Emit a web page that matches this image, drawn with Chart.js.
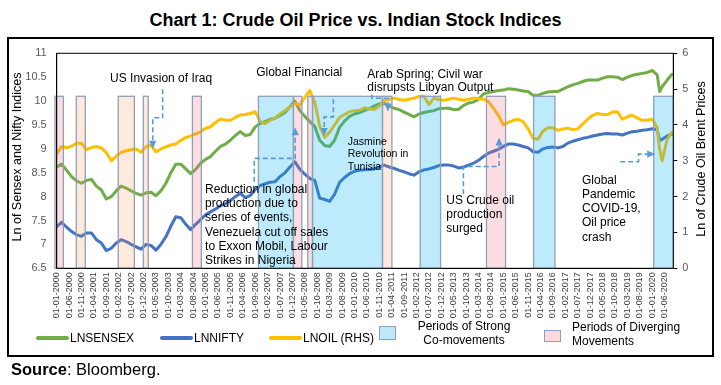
<!DOCTYPE html>
<html><head><meta charset="utf-8">
<script src="https://cdn.jsdelivr.net/npm/chart.js@4/dist/chart.umd.min.js"></script>
<style>
body{margin:0;background:#fff;}
#wrap{position:relative;width:721px;height:385px;font-family:"Liberation Sans",Arial,sans-serif;color:#000;overflow:hidden;}
#c{position:absolute;left:0;top:0;}
#frame{position:absolute;left:7px;top:37px;width:707px;height:320px;border:2px solid #000;box-sizing:border-box;}
#title{position:absolute;left:0;width:711px;top:9px;text-align:center;font-weight:bold;font-size:18px;line-height:22px;white-space:nowrap;}
#source{position:absolute;left:11px;top:359px;font-size:16.5px;line-height:20px;white-space:nowrap;}
.lg{position:absolute;font-size:12px;line-height:14px;white-space:nowrap;}
.ln{position:absolute;height:4px;border-radius:2px;}
.sw{position:absolute;box-sizing:border-box;border:1.3px solid #8EA0BA;}
</style></head><body>
<div id="wrap">
<div id="title">Chart 1: Crude Oil Price vs. Indian Stock Indices</div>
<div id="frame"></div>
<canvas id="c" width="721" height="385"></canvas>
<div class="ln" style="left:36px;top:336px;width:33px;background:#70AD47"></div>
<div class="lg" style="left:70px;top:331px">LNSENSEX</div>
<div class="ln" style="left:160px;top:336px;width:33px;background:#4472C4"></div>
<div class="lg" style="left:194px;top:331px">LNNIFTY</div>
<div class="ln" style="left:269px;top:336px;width:33px;background:#FFC000"></div>
<div class="lg" style="left:303px;top:331px">LNOIL (RHS)</div>
<div class="sw" style="left:379px;top:326px;width:17px;height:14px;background:#BDE8F9"></div>
<div class="lg" style="left:404px;top:319px;width:120px;text-align:center">Periods of Strong</div>
<div class="lg" style="left:404px;top:333px;width:120px;text-align:center">Co-movements</div>
<div class="sw" style="left:544px;top:330px;width:17px;height:12px;background:#FBDADF"></div>
<div class="lg" style="left:572px;top:320px">Periods of Diverging</div>
<div class="lg" style="left:572px;top:334px">Movements</div>
<div id="source"><b>Source</b>: Bloomberg.</div>
</div>
<script>
// Month index (0 = Jan 2000)
const months = [0,2,4,6,8,10,12,14,16,18,20,22,24,26,28,30,32,34,36,38,40,42,44,46,48,50,52,54,56,58,
60,62,64,66,68,70,72,74,76,78,80,82,84,86,88,90,92,94,96,98,100,102,104,106,108,110,112,114,116,118,
120,122,124,126,128,130,132,134,136,138,140,142,144,146,148,150,152,154,156,158,160,162,164,166,168,170,172,174,176,178,
180,182,184,186,188,190,192,194,196,198,200,202,204,206,208,210,212,214,216,218,220,222,224,226,228,230,232,234,236,238,
240,242,243,244,246,248];

const lnSensex = [8.62,8.68,8.55,8.42,8.33,8.28,8.34,8.36,8.22,8.14,
7.95,8.00,8.12,8.22,8.18,8.12,8.07,8.03,8.08,8.09,
8.02,8.12,8.28,8.50,8.68,8.68,8.58,8.48,8.57,8.70,
8.78,8.84,8.95,9.05,9.10,9.18,9.28,9.36,9.28,9.30,
9.46,9.53,9.57,9.62,9.64,9.70,9.76,9.88,10.00,9.80,
9.68,9.57,9.47,9.18,9.07,9.05,9.18,9.45,9.58,9.68,
9.73,9.76,9.80,9.84,9.90,9.94,9.95,9.90,9.85,9.82,
9.77,9.72,9.67,9.73,9.76,9.78,9.80,9.84,9.85,9.85,
9.82,9.83,9.91,9.96,9.98,10.04,10.15,10.18,10.20,10.22,
10.23,10.26,10.25,10.23,10.21,10.20,10.12,10.12,10.16,10.19,
10.20,10.20,10.25,10.30,10.34,10.37,10.41,10.44,10.44,10.44,
10.48,10.51,10.51,10.50,10.45,10.50,10.54,10.56,10.58,10.60,
10.64,10.55,10.20,10.30,10.44,10.56];

const lnNifty = [7.37,7.46,7.36,7.27,7.20,7.17,7.24,7.24,7.10,7.03,
6.87,6.92,7.03,7.10,7.06,7.00,6.95,6.90,7.00,6.98,
6.88,7.00,7.16,7.38,7.58,7.56,7.42,7.31,7.42,7.52,
7.62,7.68,7.74,7.81,7.85,7.92,8.00,8.07,7.98,8.02,
8.15,8.23,8.27,8.30,8.31,8.42,8.50,8.62,8.73,8.57,
8.47,8.38,8.34,7.97,7.94,7.90,8.05,8.30,8.40,8.48,
8.53,8.55,8.56,8.57,8.58,8.62,8.66,8.62,8.59,8.55,
8.52,8.48,8.45,8.52,8.56,8.58,8.61,8.65,8.66,8.66,
8.64,8.60,8.62,8.66,8.70,8.76,8.84,8.91,8.95,8.99,
9.05,9.10,9.10,9.08,9.05,9.02,8.94,8.93,9.00,9.03,
9.04,9.02,9.05,9.12,9.16,9.19,9.22,9.24,9.27,9.29,
9.31,9.32,9.31,9.31,9.29,9.33,9.36,9.37,9.39,9.40,
9.42,9.40,9.18,9.20,9.27,9.31];

const lnOil = [3.20,3.40,3.36,3.41,3.49,3.49,3.31,3.37,3.40,3.36,
3.23,3.00,3.13,3.24,3.28,3.31,3.33,3.24,3.40,3.44,
3.25,3.33,3.39,3.44,3.47,3.57,3.65,3.69,3.75,3.81,
3.91,3.95,4.07,4.17,4.13,4.13,4.21,4.28,4.29,4.32,
4.37,4.10,4.04,4.13,4.19,4.31,4.40,4.51,4.60,4.56,
4.77,4.96,4.64,3.97,3.65,3.80,4.00,4.21,4.29,4.37,
4.40,4.41,4.48,4.45,4.43,4.53,4.69,4.72,4.75,4.71,
4.69,4.72,4.75,4.80,4.80,4.57,4.75,4.71,4.69,4.72,
4.75,4.72,4.69,4.72,4.75,4.73,4.72,4.65,4.47,4.27,
4.00,4.07,4.13,4.16,4.09,3.89,3.63,3.60,3.83,3.92,
3.92,3.85,3.89,3.91,3.87,3.89,4.03,4.16,4.27,4.32,
4.29,4.29,4.36,4.37,4.16,4.23,4.27,4.19,4.13,4.13,
4.16,3.93,3.33,3.00,3.60,3.80];

const tickLabels = ['01-01-2000','01-06-2000','01-11-2000','01-04-2001','01-09-2001','01-02-2002','01-07-2002','01-12-2002','01-05-2003','01-10-2003',
'01-03-2004','01-08-2004','01-01-2005','01-06-2005','01-11-2005','01-04-2006','01-09-2006','01-02-2007','01-07-2007','01-12-2007',
'01-05-2008','01-10-2008','01-03-2009','01-08-2009','01-01-2010','01-06-2010','01-11-2010','01-04-2011','01-09-2011','01-02-2012',
'01-07-2012','01-12-2012','01-05-2013','01-10-2013','01-03-2014','01-08-2014','01-01-2015','01-06-2015','01-11-2015','01-04-2016',
'01-09-2016','01-02-2017','01-07-2017','01-12-2017','01-05-2018','01-10-2018','01-03-2019','01-08-2019','01-01-2020','01-06-2020'];
const tickMonths = [0,5,10,15,20,25,30,35,40,45,50,55,60,65,70,75,80,85,90,95,100,105,110,115,120,125,130,135,140,145,
150,155,160,165,170,175,180,185,190,195,200,205,210,215,220,225,230,235,240,245];

// shaded periods (month index)
const periodStart = [-0.7,7.9,24.8,34.9,54.7,81.3,95.4,101.2,103.1,131.3,146.5,173.2,192.2,240.6];
const periodEnd   = [2.7,11.5,31.3,36.9,58.3,95.4,98.8,103.1,131.3,135.1,154.7,180.9,200.8,248.5];
const periodType  = ['diverge','mild','mild','mild','diverge','strong','diverge','diverge','strong','mild','strong','diverge','strong','strong'];

const FONT = '"Liberation Sans", Arial, sans-serif';
const periodFill = {strong:'rgba(0,176,240,0.26)', diverge:'rgba(240,100,120,0.22)', mild:'rgba(245,150,80,0.2)'};

const notes = [
  {lines:['US Invasion of Iraq'], m:21.5, v:10.46, size:12, lh:14},
  {lines:['Global Financial'], m:80.4, v:10.59, size:12, lh:14},
  {lines:['Reduction in global','production due to','series of events,','Venezuela cut off sales','to Exxon Mobil, Labour','Strikes in Nigeria'], m:59.8, v:8.14, size:12, lh:14.1},
  {lines:['Jasmine','Revolution in','Tunisia'], m:117.3, v:9.15, size:10.5, lh:12.5},
  {lines:['Arab Spring; Civil war','disrupsts Libyan Output'], m:125.2, v:10.56, size:12, lh:13.4},
  {lines:['US Crude oil','production','surged'], m:157, v:7.91, size:12, lh:14},
  {lines:['Global','Pandemic','COVID-19,','Oil price','crash'], m:211.7, v:8.33, size:12, lh:14.1}
];
const arrows = [
  [[42.7,10.25],[42.7,9.65],[38.7,9.65],[38.7,9.0]],
  [[111.5,10.04],[111.5,9.67],[107.8,9.67],[107.8,9.27]],
  [[79.6,8.31],[79.6,8.80],[96.1,8.80],[96.1,9.45]],
  [[127.0,10.14],[127.0,10.06],[133.5,10.06],[133.5,9.78]],
  [[163.9,8.05],[163.9,8.63],[178.3,8.63],[178.3,9.24]],
  [[227.1,8.73],[234.5,8.73],[234.5,8.89],[241.2,8.89]]
];

const shadePlugin = {
  id:'shade',
  afterDatasetsDraw(chart){
    const {ctx, scales:{x, y}} = chart;
    const top = y.getPixelForValue(10.1), bot = y.getPixelForValue(6.5);
    ctx.save();
    periodStart.forEach((s,i)=>{
      const x1 = x.getPixelForValue(s), x2 = x.getPixelForValue(periodEnd[i]);
      ctx.fillStyle = periodFill[periodType[i]];
      ctx.fillRect(x1, top, x2-x1, bot-top);
      ctx.strokeStyle = '#8EA0BA'; ctx.lineWidth = 1.3;
      ctx.strokeRect(x1, top, x2-x1, bot-top);
    });
    ctx.restore();
  }
};

const overlayPlugin = {
  id:'overlay',
  afterDraw(chart){
    const {ctx, chartArea:a, scales:{x, y}} = chart;
    ctx.save();
    ctx.strokeStyle = '#000'; ctx.lineWidth = 1;
    ctx.strokeRect(a.left, a.top, a.right-a.left, a.bottom-a.top);
    // arrows
    ctx.strokeStyle = '#5B9BD5'; ctx.fillStyle = '#5B9BD5'; ctx.lineWidth = 1.6;
    arrows.forEach(path=>{
      const p = path.map(q=>[x.getPixelForValue(q[0]), y.getPixelForValue(q[1])]);
      const n = p.length;
      const dx = p[n-1][0]-p[n-2][0], dy = p[n-1][1]-p[n-2][1];
      const len = Math.hypot(dx,dy), ux = dx/len, uy = dy/len;
      const hl = 8, hw = 3.6;
      const bx = p[n-1][0]-ux*hl, by = p[n-1][1]-uy*hl;
      ctx.setLineDash([5,3]);
      ctx.beginPath();
      ctx.moveTo(p[0][0], p[0][1]);
      for (let i=1;i<n-1;i++) ctx.lineTo(p[i][0], p[i][1]);
      ctx.lineTo(bx, by);
      ctx.stroke();
      ctx.setLineDash([]);
      ctx.beginPath();
      ctx.moveTo(p[n-1][0], p[n-1][1]);
      ctx.lineTo(bx - uy*hw, by + ux*hw);
      ctx.lineTo(bx + uy*hw, by - ux*hw);
      ctx.closePath(); ctx.fill();
    });
    // annotation texts
    ctx.fillStyle = '#000'; ctx.textBaseline = 'middle'; ctx.textAlign = 'left';
    notes.forEach(nt=>{
      ctx.font = nt.size + 'px ' + FONT;
      const px = x.getPixelForValue(nt.m), py = y.getPixelForValue(nt.v);
      nt.lines.forEach((t,i)=> ctx.fillText(t, px, py + i*nt.lh));
    });
    // axis titles
    ctx.font = '12.5px ' + FONT;
    ctx.textAlign = 'center';
    ctx.save(); ctx.translate(18, 157); ctx.rotate(-Math.PI/2); ctx.fillText('Ln of Sensex and Nifty Indices', 0, 0); ctx.restore();
    ctx.save(); ctx.translate(702, 159); ctx.rotate(-Math.PI/2); ctx.fillText('Ln of Crude Oil Brent Prices', 0, 0); ctx.restore();
    ctx.restore();
  }
};

const pts = arr => months.map((m,i)=>({x:m, y:arr[i]}));

new Chart(document.getElementById('c'), {
  type:'line',
  data:{datasets:[
    {label:'LNSENSEX', data:pts(lnSensex), borderColor:'#70AD47', yAxisID:'y', order:3},
    {label:'LNNIFTY', data:pts(lnNifty), borderColor:'#4472C4', yAxisID:'y', order:2},
    {label:'LNOIL (RHS)', data:pts(lnOil), borderColor:'#FFC000', yAxisID:'y1', order:1}
  ]},
  options:{
    responsive:false, animation:false, devicePixelRatio:1,
    layout:{padding:{left:0, right:0, top:53.3, bottom:66.7}},
    plugins:{legend:{display:false}, tooltip:{enabled:false}},
    elements:{point:{radius:0}, line:{borderWidth:3, tension:0, borderJoinStyle:'round', borderCapStyle:'round'}},
    scales:{
      x:{type:'linear', min:0, max:248.5,
        afterBuildTicks: s => { s.ticks = tickMonths.map(v=>({value:v})); },
        afterFit: s => { s.height = 50; },
        grid:{display:false, drawTicks:false},
        border:{display:true, color:'#000', width:1},
        ticks:{autoSkip:false, maxRotation:90, minRotation:90, padding:4, color:'#404040',
          font:{family:FONT, size:9}, callback:(v,i)=>tickLabels[i]}
      },
      y:{position:'left', min:6.5, max:11,
        afterFit: s => { s.width = 56.7; },
        grid:{display:false, drawTicks:false},
        border:{display:true, color:'#000', width:1},
        ticks:{stepSize:0.5, padding:10, color:'#595959', font:{family:FONT, size:11},
          callback:v => String(+Number(v).toFixed(1))}
      },
      y1:{position:'right', min:0, max:6,
        afterFit: s => { s.width = 47.7; },
        grid:{display:true, drawOnChartArea:false, drawTicks:true, tickLength:4, color:'#000'},
        border:{display:true, color:'#000', width:1},
        ticks:{stepSize:1, padding:5, color:'#595959', font:{family:FONT, size:11}}
      }
    }
  },
  plugins:[shadePlugin, overlayPlugin]
});
</script>
</body></html>
